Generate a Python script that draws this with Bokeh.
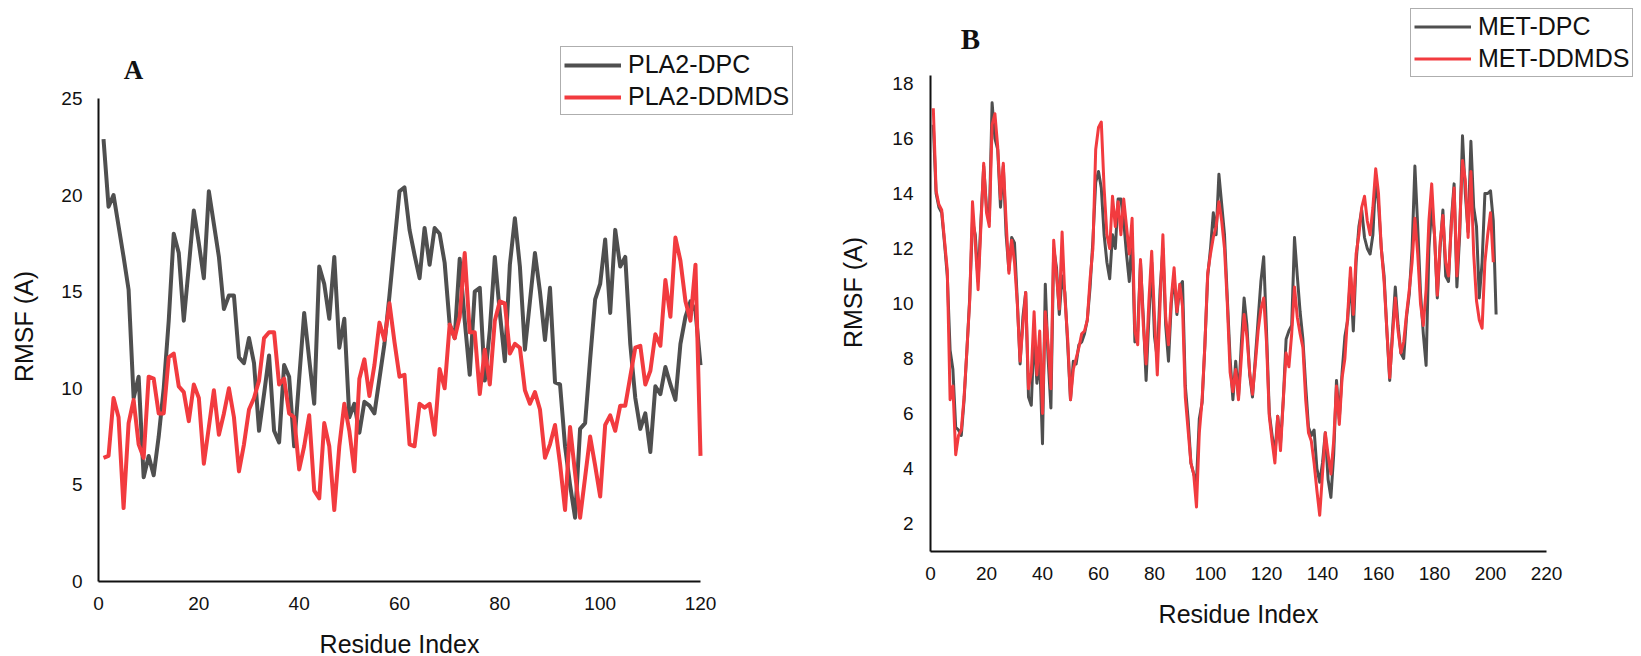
import math
from bokeh.plotting import figure
from bokeh.layouts import row
from bokeh.models import Legend, LegendItem, FixedTicker, Label
from bokeh.embed import file_html
from bokeh.resources import INLINE

# ---------------- Panel A data ----------------
residues_a = list(range(1, 121))
pla2_dpc = [
    22.9, 19.4, 20.0, 18.4, 16.8, 15.1, 9.5, 10.6, 5.4, 6.5,
    5.5, 7.5, 10.0, 13.5, 18.0, 17.0, 13.5, 16.3, 19.2, 17.5,
    15.7, 20.2, 18.5, 16.8, 14.1, 14.8, 14.8, 11.6, 11.3, 12.6,
    11.3, 7.8, 9.7, 11.7, 7.8, 7.2, 11.2, 10.6, 7.0, 10.5,
    13.9, 11.5, 9.2, 16.3, 15.4, 13.6, 16.8, 12.1, 13.6, 8.5,
    9.2, 7.7, 9.3, 9.1, 8.7, 10.5, 12.3, 14.8, 17.5, 20.2,
    20.4, 18.2, 16.9, 15.7, 18.3, 16.4, 18.3, 18.0, 16.5, 13.3,
    12.6, 16.7, 13.5, 10.7, 15.0, 15.2, 10.4, 13.0, 16.8, 13.9,
    11.4, 16.4, 18.8, 16.3, 12.0, 14.5, 17.0, 15.0, 12.5, 15.2,
    10.3, 10.2, 7.0, 5.0, 3.3, 7.9, 8.2, 11.5, 14.6, 15.4,
    17.7, 13.9, 18.2, 16.3, 16.8, 12.3, 9.5, 7.9, 8.7, 6.7,
    10.1, 9.7, 11.1, 10.2, 9.4, 12.3, 13.7, 14.5, 14.0, 11.2,
]
pla2_ddmds = [
    6.4, 6.5, 9.5, 8.5, 3.8, 8.2, 9.4, 7.1, 6.4, 10.6,
    10.5, 8.7, 8.7, 11.6, 11.8, 10.1, 9.8, 8.3, 10.2, 9.5,
    6.1, 8.0, 9.9, 7.6, 8.7, 10.0, 8.5, 5.7, 7.1, 8.9,
    9.5, 10.4, 12.6, 12.9, 12.9, 10.2, 10.5, 8.7, 8.5, 5.8,
    7.0, 8.6, 4.7, 4.3, 8.2, 7.0, 3.7, 7.0, 9.2, 7.8,
    5.7, 10.5, 11.5, 9.6, 11.2, 13.4, 12.5, 14.4, 12.4, 10.6,
    10.7, 7.1, 7.0, 9.2, 9.0, 9.2, 7.6, 11.0, 10.0, 13.3,
    12.6, 13.7, 17.0, 12.9, 12.9, 9.7, 12.0, 10.2, 13.5, 14.5,
    14.4, 11.8, 12.3, 12.1, 9.9, 9.2, 9.8, 8.9, 6.4, 7.1,
    8.1, 6.1, 3.7, 8.0, 5.6, 3.3, 5.4, 7.5, 6.0, 4.4,
    8.1, 8.6, 7.8, 9.1, 9.1, 10.6, 12.1, 12.2, 10.2, 10.9,
    12.8, 12.2, 15.6, 13.7, 17.8, 16.6, 14.5, 13.5, 16.4, 6.5,
]
xticks_a = [0, 20, 40, 60, 80, 100, 120]
yticks_a = [0, 5, 10, 15, 20, 25]

# ---------------- Panel B data ----------------
met_dpc = [
    16.5, 14.0, 13.5, 13.3, 12.2, 11.0, 8.3, 7.6, 5.5, 5.4,
    5.2, 6.5, 8.3, 10.2, 13.0, 12.5, 10.8, 13.0, 15.0, 13.5,
    13.0, 17.3, 16.0, 15.6, 13.5, 15.0, 12.5, 11.2, 12.4, 12.2,
    10.1, 7.8, 9.5, 10.4, 6.6, 6.3, 9.0, 7.1, 8.0, 4.9,
    10.7, 8.0, 6.2, 12.0, 11.3, 9.6, 11.0, 10.4, 8.5, 6.5,
    7.9, 7.8, 8.5, 8.6, 8.9, 9.4, 10.6, 12.3, 14.4, 14.8,
    14.2, 12.5, 11.5, 10.9, 12.5, 12.0, 13.8, 13.8, 13.0, 11.8,
    10.8, 12.5, 8.6, 9.0, 11.5, 9.5, 7.2, 9.5, 11.5, 8.8,
    8.0, 10.5, 12.0, 9.2, 7.9, 10.0, 11.0, 9.6, 10.6, 10.8,
    7.0, 5.8, 4.2, 3.8, 3.5, 5.8, 6.4, 8.5, 11.0, 12.0,
    13.3, 12.5, 14.7, 13.6, 12.5, 10.2, 8.0, 6.5, 7.9, 6.6,
    8.5, 10.2, 9.2, 7.4, 6.6, 8.0, 9.4, 10.8, 11.7, 9.0,
    6.0, 5.2, 4.5, 5.9, 4.9, 6.5, 8.7, 9.0, 9.2, 12.4,
    11.0, 9.7, 8.7, 7.0, 5.5, 5.2, 5.4, 4.0, 3.5, 4.2,
    5.3, 3.6, 2.95, 4.5, 7.2, 5.8, 7.5, 8.8, 9.4, 11.0,
    9.0, 11.5, 12.8, 13.4, 12.4, 12.0, 11.8, 12.5, 14.6, 13.6,
    12.0, 11.0, 9.0, 7.2, 9.0, 10.6, 9.2, 8.2, 8.0, 9.5,
    10.35, 12.0, 15.0, 12.8, 10.4, 8.9, 7.75, 12.0, 13.5, 12.5,
    10.2, 12.0, 13.4, 11.0, 10.8, 13.0, 14.35, 10.6, 12.5, 16.1,
    14.0, 12.6, 15.9, 13.5, 12.8, 10.2, 11.5, 14.0, 14.0, 14.1,
    13.0, 9.6,
]
met_ddmds = [
    17.1, 14.1, 13.6, 13.4, 12.3, 11.2, 6.5, 7.0, 4.5, 5.2,
    5.4, 6.6, 8.3, 10.1, 13.7, 12.2, 10.5, 12.8, 15.1, 13.3,
    12.8, 16.5, 16.9, 15.7, 13.8, 15.1, 13.0, 11.1, 12.3, 11.5,
    10.0, 7.9, 9.2, 10.4, 6.9, 7.5, 9.7, 7.4, 9.0, 6.0,
    9.7, 8.5, 6.9, 12.3, 11.0, 9.8, 12.6, 10.2, 8.7, 6.5,
    7.6, 8.0, 8.4, 8.9, 9.0, 9.4, 10.9, 12.0, 15.6, 16.4,
    16.6, 14.2, 12.5, 12.0, 13.9, 12.8, 13.7, 12.5, 13.8, 12.8,
    11.8, 13.1, 9.0, 8.5, 11.6, 9.2, 7.8, 10.1, 11.9, 9.5,
    7.4, 10.0, 12.5, 9.5, 8.5, 10.2, 11.3, 9.7, 10.7, 9.9,
    6.6, 5.4, 4.2, 3.8, 2.6, 5.3, 6.5, 8.5, 11.1, 11.8,
    12.4, 12.8, 13.7, 13.0, 12.0, 10.0, 7.5, 6.8, 7.6, 6.5,
    8.0, 9.6, 8.8, 7.5, 6.7, 7.8, 9.0, 9.8, 10.2, 8.6,
    5.9, 5.0, 4.2, 5.9, 4.65, 6.5, 8.2, 7.7, 8.9, 10.6,
    9.5, 8.9, 8.4, 6.5, 5.3, 5.0, 4.2, 3.2, 2.3, 3.8,
    5.3, 4.5, 3.8, 5.0, 7.0, 5.6, 7.3, 8.0, 9.6, 11.3,
    9.6, 11.8, 12.5, 13.5, 13.9, 13.0, 12.5, 13.5, 14.9, 14.0,
    12.0, 10.8, 9.0, 7.3, 8.8, 10.2, 9.0, 8.2, 8.6, 9.6,
    10.5, 11.5, 13.1, 11.8, 10.0, 9.2, 10.5, 13.0, 14.35, 12.5,
    10.3, 12.2, 13.2, 11.5, 11.0, 12.8, 14.2, 11.0, 12.8, 15.2,
    14.5, 12.4, 14.8, 11.8, 10.1, 9.4, 9.1, 11.5, 12.5, 13.3,
    11.5,
]
residues_b_dpc = list(range(1, len(met_dpc) + 1))
residues_b_ddmds = list(range(1, len(met_ddmds) + 1))
xticks_b = [0, 20, 40, 60, 80, 100, 120, 140, 160, 180, 200, 220]
yticks_b = [2, 4, 6, 8, 10, 12, 14, 16, 18]

GRAY = "#4f4f4f"
RED = "#f23b3f"
INK = "#111111"
FONT = "Liberation Sans"
SERIF = "Liberation Serif"
H = 656
TXT_SHIFT = 10  # renderer places the alphabetic baseline ~10 px lower


def make_panel(width, x0_px, x_per, y0_px, y0_val, y_per, x_bounds, y_bounds,
               xticks, yticks, x_axis_at, xstand, ystand):
    """Figure whose frame fills the whole canvas; axes are fixed at data
    positions so that annotations above/beside the axes are not clipped."""
    xs = -x0_px / x_per
    xe = xs + width / x_per
    ye = y0_val + y0_px / y_per
    ys = ye - H / y_per
    p = figure(width=width, height=H, x_range=(xs, xe), y_range=(ys, ye),
               output_backend="svg", toolbar_location=None,
               min_border=0, min_border_left=0, min_border_right=0,
               min_border_top=0, min_border_bottom=0)
    p.xgrid.visible = False
    p.ygrid.visible = False
    p.outline_line_color = None
    p.background_fill_color = "white"
    p.border_fill_color = "white"
    p.xaxis.ticker = FixedTicker(ticks=xticks)
    p.yaxis.ticker = FixedTicker(ticks=yticks)
    p.xaxis.fixed_location = x_axis_at
    p.yaxis.fixed_location = 0
    p.xaxis.bounds = x_bounds
    p.yaxis.bounds = y_bounds
    for ax in (p.xaxis[0], p.yaxis[0]):
        ax.major_tick_out = 0
        ax.major_tick_in = 0
        ax.minor_tick_out = 0
        ax.minor_tick_in = 0
        ax.axis_line_color = INK
        ax.axis_line_width = 2
        ax.major_label_text_font = FONT
        ax.major_label_text_font_size = "19px"
        ax.major_label_text_color = INK
    p.xaxis.major_label_standoff = xstand
    p.yaxis.major_label_standoff = ystand

    def dx(px):
        return (px - x0_px) / x_per

    def dy(py):
        return y0_val + (y0_px - py) / y_per

    return p, dx, dy


def add_texts(p, dx, dy, letter, letter_xy, letter_size, ylab_xy, xlab_xy):
    p.add_layout(Label(x=dx(letter_xy[0]), y=dy(letter_xy[1] - TXT_SHIFT),
                       text=letter, text_font=SERIF, text_font_style="bold",
                       text_font_size=letter_size, text_align="center",
                       text_baseline="alphabetic", text_color=INK))
    p.add_layout(Label(x=dx(ylab_xy[0] - TXT_SHIFT), y=dy(ylab_xy[1]),
                       text="RMSF (A)", angle=math.pi / 2, text_font=FONT,
                       text_font_size="25px", text_align="center",
                       text_baseline="alphabetic", text_color=INK))
    p.add_layout(Label(x=dx(xlab_xy[0]), y=dy(xlab_xy[1] - TXT_SHIFT),
                       text="Residue Index", text_font=FONT,
                       text_font_size="25px", text_align="center",
                       text_baseline="alphabetic", text_color=INK))


def legend(items, loc, gh):
    return Legend(items=items, location=loc, padding=3, spacing=3, margin=0,
                  glyph_width=57, glyph_height=gh, label_height=gh,
                  label_standoff=7, label_text_font=FONT,
                  label_text_font_size="25px", label_text_color=INK,
                  border_line_color="#5e5e5e", border_line_width=1.5,
                  background_fill_color="white", background_fill_alpha=1)


# ---------------- Panel A (canvas x 0..820) ----------------
pA, dxA, dyA = make_panel(820, 98, 602 / 120, 581, 0, 483 / 25,
                          (0, 120), (0, 25), xticks_a, yticks_a, 0, 15, 16)
rA1 = pA.line(residues_a, pla2_dpc, line_color=GRAY, line_width=4, line_join="round")
rA2 = pA.line(residues_a, pla2_ddmds, line_color=RED, line_width=4, line_join="round")
pA.add_layout(legend([LegendItem(label="PLA2-DPC", renderers=[rA1]),
                      LegendItem(label="PLA2-DDMDS", renderers=[rA2])],
                     (560, H - 115), 28))
add_texts(pA, dxA, dyA, "A", (133, 79), "27px", (33, 326), (399, 653))

# ---------------- Panel B (canvas x 820..1641) ----------------
OFF = 820
pB, dxB0, dyB = make_panel(821, 930 - OFF, 616 / 220, 523, 2, 27.5,
                           (0, 220), (1, 18.3), xticks_b, yticks_b, 1, 16, 17)


def dxB(px):
    return dxB0(px - OFF)


rB1 = pB.line(residues_b_dpc, met_dpc, line_color=GRAY, line_width=3, line_join="round")
rB2 = pB.line(residues_b_ddmds, met_ddmds, line_color=RED, line_width=3, line_join="round")
pB.add_layout(legend([LegendItem(label="MET-DPC", renderers=[rB1]),
                      LegendItem(label="MET-DDMDS", renderers=[rB2])],
                     (1410 - OFF, H - 77), 29))
add_texts(pB, dxB, dyB, "B", (970, 48), "29px", (862, 292), (1238, 623))

layout = row(pA, pB)
open("out.html", "w").write(file_html(layout, INLINE))
